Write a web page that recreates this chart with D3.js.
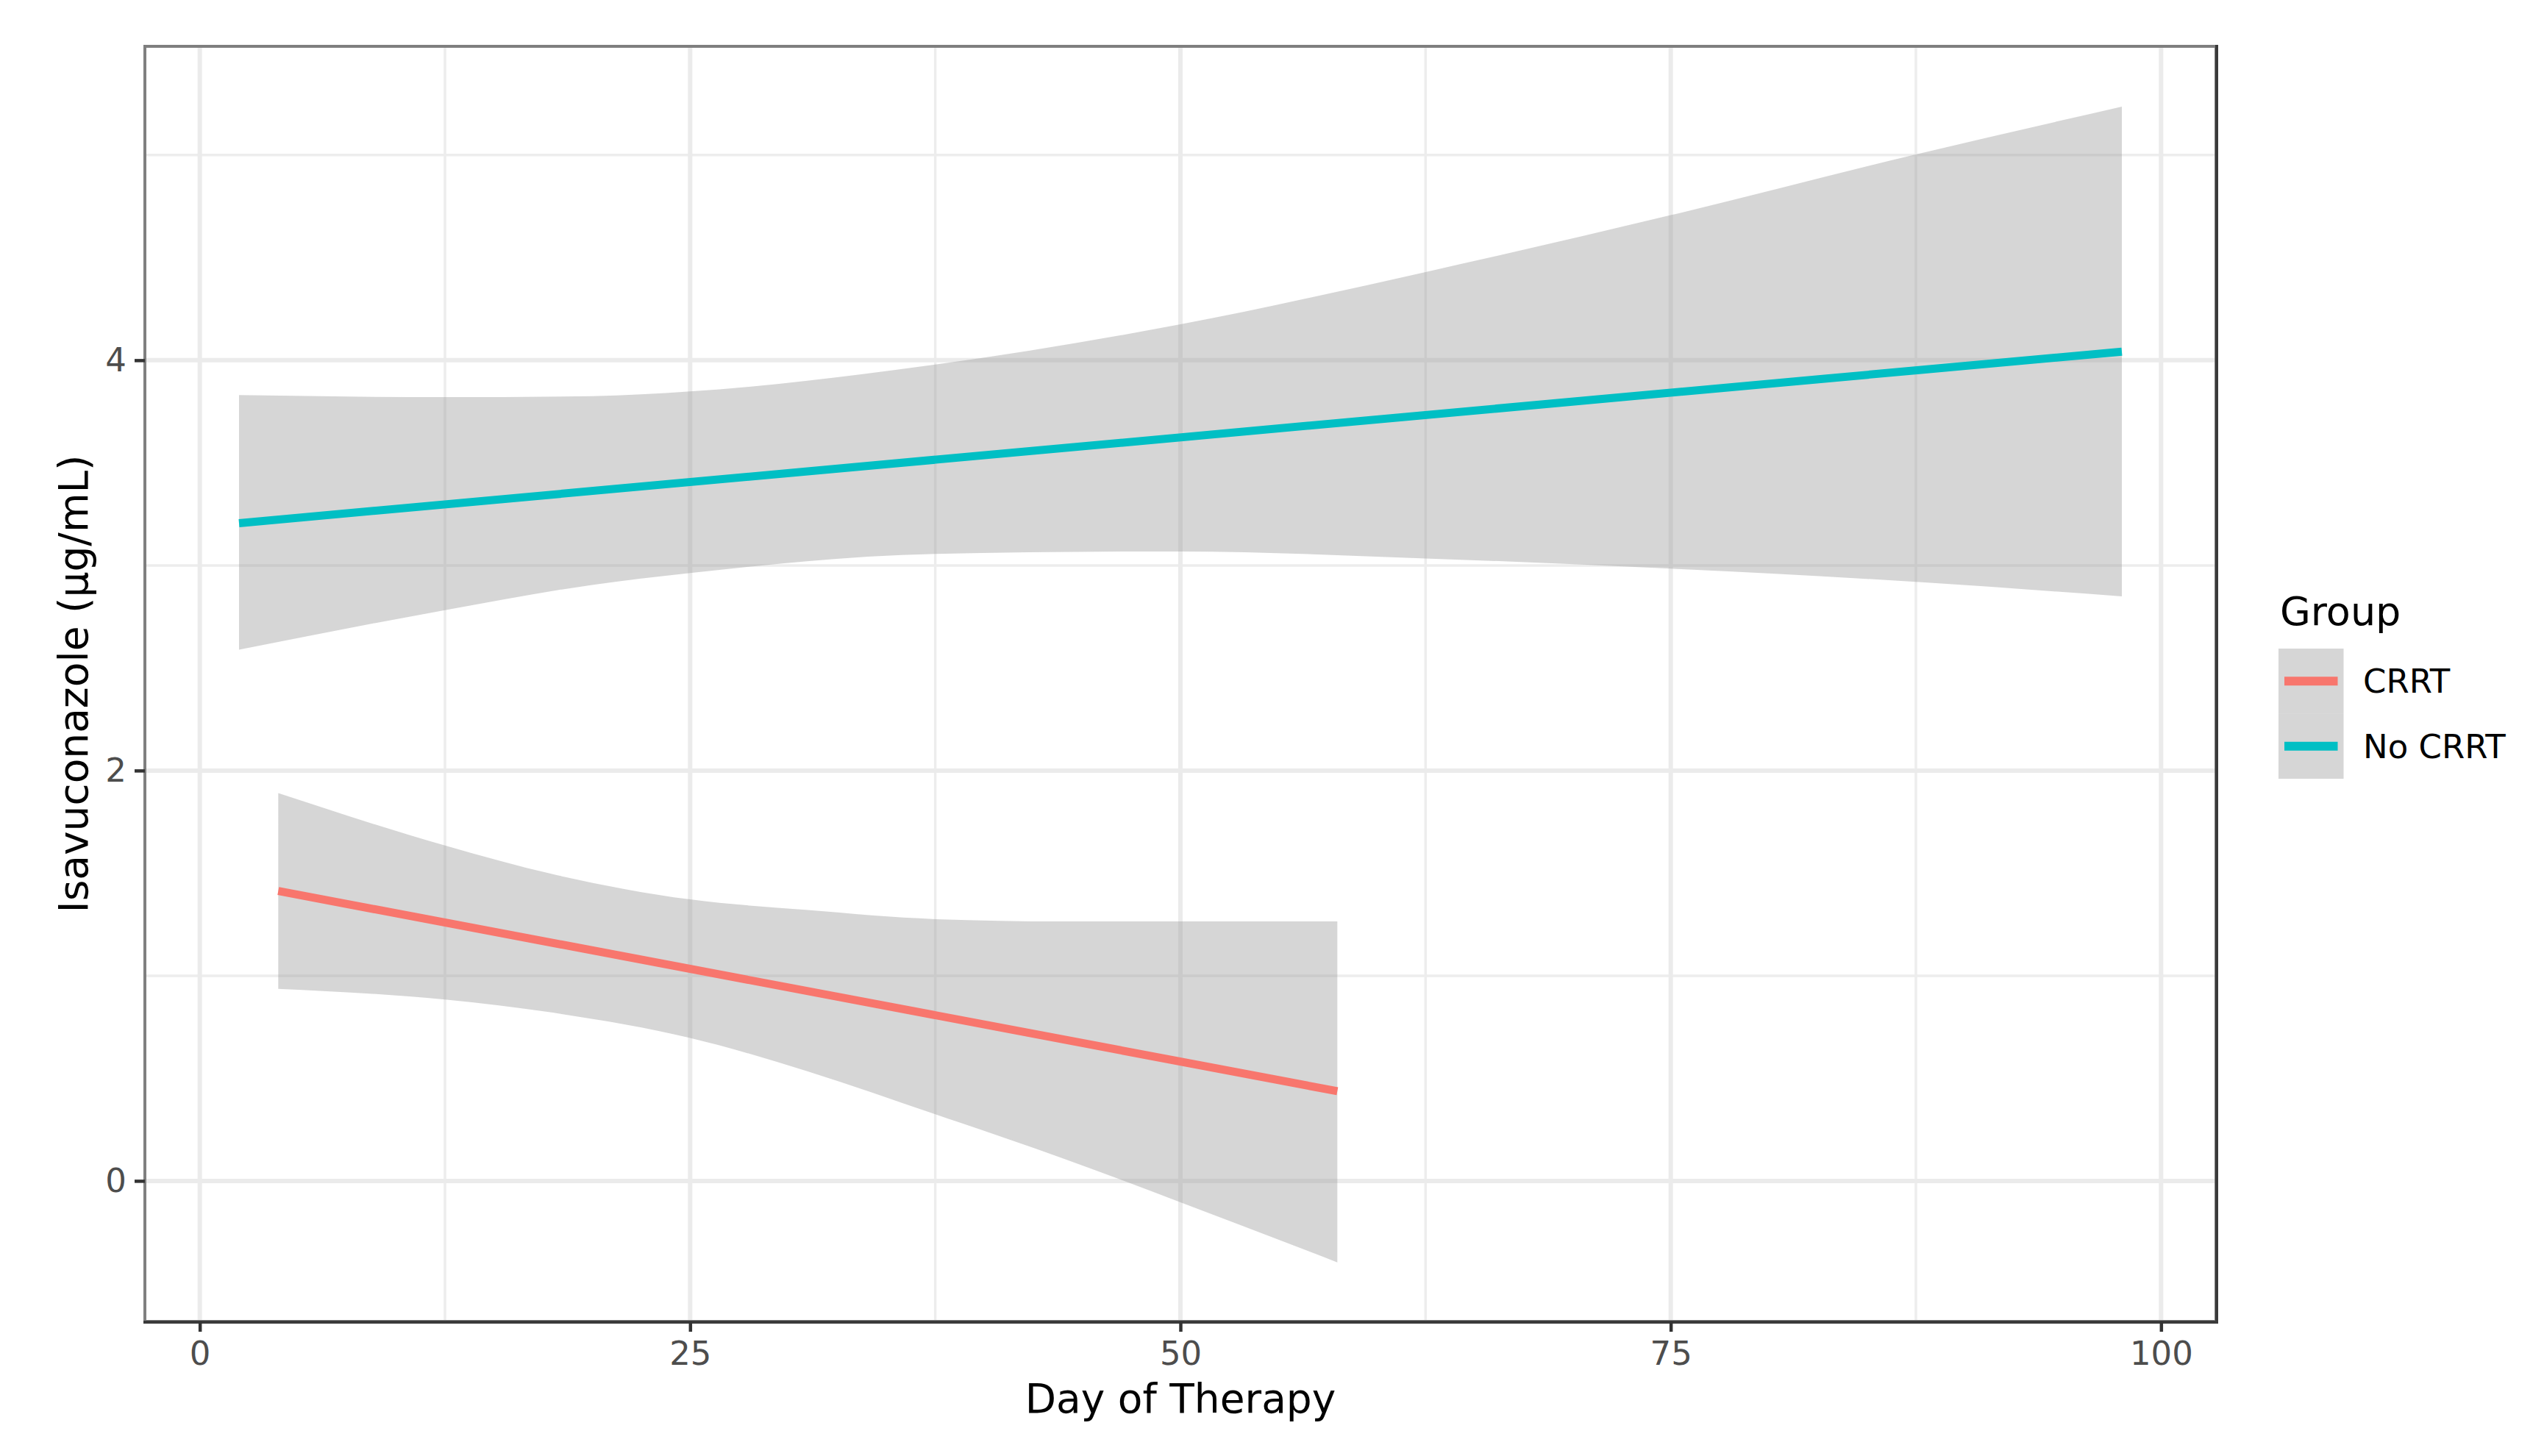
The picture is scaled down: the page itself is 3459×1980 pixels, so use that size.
<!DOCTYPE html>
<html>
<head>
<meta charset="utf-8">
<script src="https://cdn.jsdelivr.net/npm/d3@7"></script>
<style>
  body { margin: 0; background: #fff; }
  text { font-family: 'DejaVu Sans', sans-serif; }
</style>
</head>
<body>
<div id="chart"></div>
<script>
// Fitted lines (linear fit end points) per group
const groups = ['CRRT', 'No CRRT'];
const groupColors = ['#F8766D', '#00BFC4'];

const crrtLineX = [4, 58];
const crrtLineY = [1.413, 0.437];
const noCrrtLineX = [2, 98];
const noCrrtLineY = [3.206, 4.042];

// Confidence bands
const crrtBandX = [4, 12.5, 18, 25, 31, 37.5, 44, 50, 58];
const crrtBandUpper = [1.89, 1.635, 1.495, 1.372, 1.32, 1.276, 1.265, 1.265, 1.265];
const crrtBandLower = [0.936, 0.884, 0.82, 0.697, 0.534, 0.325, 0.11, -0.104, -0.397];

const noCrrtBandX = [2, 12.5, 20, 25, 37.5, 50, 62.5, 75, 87.5, 98];
const noCrrtBandUpper = [3.83, 3.82, 3.825, 3.848, 3.979, 4.175, 4.43, 4.707, 5.003, 5.236];
const noCrrtBandLower = [2.589, 2.782, 2.905, 2.963, 3.056, 3.068, 3.034, 2.984, 2.92, 2.849];

// Axes
const xTicks = [0, 25, 50, 75, 100];
const xMinor = [12.5, 37.5, 62.5, 87.5];
const yTicks = [0, 2, 4];
const yMinor = [1, 3, 5];

const xTitle = 'Day of Therapy';
const yTitle = 'Isavuconazole (µg/mL)';
const legendTitle = 'Group';

// Graph setup
const width = 3459;
const height = 1980;
const panel = { left: 197, top: 63, right: 3013, bottom: 1797 };

const svg = d3.select('#chart')
  .append('svg')
  .attr('width', width)
  .attr('height', height);

const x = d3.scaleLinear().domain([-2.8, 102.8]).range([panel.left, panel.right]);
const y = d3.scaleLinear().domain([-0.685, 5.53]).range([panel.bottom, panel.top]);

// grid
const grid = svg.append('g');
grid.selectAll('.vminor').data(xMinor).enter().append('line')
  .attr('x1', d => x(d)).attr('x2', d => x(d))
  .attr('y1', panel.top).attr('y2', panel.bottom)
  .attr('stroke', '#EDEDED').attr('stroke-width', 3.5);
grid.selectAll('.hminor').data(yMinor).enter().append('line')
  .attr('y1', d => y(d)).attr('y2', d => y(d))
  .attr('x1', panel.left).attr('x2', panel.right)
  .attr('stroke', '#EDEDED').attr('stroke-width', 3.5);
grid.selectAll('.vmajor').data(xTicks).enter().append('line')
  .attr('x1', d => x(d)).attr('x2', d => x(d))
  .attr('y1', panel.top).attr('y2', panel.bottom)
  .attr('stroke', '#EBEBEB').attr('stroke-width', 6);
grid.selectAll('.hmajor').data(yTicks).enter().append('line')
  .attr('y1', d => y(d)).attr('y2', d => y(d))
  .attr('x1', panel.left).attr('x2', panel.right)
  .attr('stroke', '#EBEBEB').attr('stroke-width', 6);

// bands
const bands = [
  { xs: crrtBandX, lo: crrtBandLower, hi: crrtBandUpper },
  { xs: noCrrtBandX, lo: noCrrtBandLower, hi: noCrrtBandUpper }
];
const area = d3.area()
  .x(d => x(d.x))
  .y0(d => y(d.lo))
  .y1(d => y(d.hi))
  .curve(d3.curveMonotoneX);

bands.forEach(b => {
  const pts = b.xs.map((v, i) => ({ x: v, lo: b.lo[i], hi: b.hi[i] }));
  svg.append('path')
    .datum(pts)
    .attr('d', area)
    .attr('fill', '#999999')
    .attr('fill-opacity', 0.4);
});

// fitted lines
const lines = [
  { xs: crrtLineX, ys: crrtLineY, color: groupColors[0] },
  { xs: noCrrtLineX, ys: noCrrtLineY, color: groupColors[1] }
];
const line = d3.line().x(d => x(d[0])).y(d => y(d[1]));
lines.forEach(l => {
  svg.append('path')
    .datum(l.xs.map((v, i) => [v, l.ys[i]]))
    .attr('d', line)
    .attr('fill', 'none')
    .attr('stroke', l.color)
    .attr('stroke-width', 11);
});

// panel border
svg.append('rect')
  .attr('x', panel.left).attr('y', panel.top)
  .attr('width', panel.right - panel.left)
  .attr('height', panel.bottom - panel.top)
  .attr('fill', 'none')
  .attr('stroke', '#7f7f7f')
  .attr('stroke-width', 4);
svg.append('path')
  .attr('d', `M${panel.left - 2},${panel.bottom + 1}H${panel.right + 1}V${panel.top - 2}`)
  .attr('fill', 'none')
  .attr('stroke', '#3a3a3a')
  .attr('stroke-width', 4);

// axes
const xAxis = svg.append('g')
  .attr('transform', `translate(0,${panel.bottom})`)
  .call(d3.axisBottom(x).tickValues(xTicks).tickSize(14).tickPadding(13).tickFormat(d3.format('d')));
const yAxis = svg.append('g')
  .attr('transform', `translate(${panel.left},0)`)
  .call(d3.axisLeft(y).tickValues(yTicks).tickSize(14).tickPadding(11).tickFormat(d3.format('d')));

[xAxis, yAxis].forEach(a => {
  a.select('.domain').remove();
  a.selectAll('.tick line').attr('stroke', '#333333').attr('stroke-width', 4.5);
  a.selectAll('.tick text')
    .attr('fill', '#4D4D4D')
    .style('font-size', '45px')
    .style('font-family', "'DejaVu Sans', sans-serif");
});

// axis titles
svg.append('text')
  .attr('x', (panel.left + panel.right) / 2)
  .attr('y', 1921)
  .attr('text-anchor', 'middle')
  .style('font-size', '55px')
  .attr('fill', '#000')
  .text(xTitle);

svg.append('text')
  .attr('transform', `translate(119,${(panel.top + panel.bottom) / 2}) rotate(-90)`)
  .attr('text-anchor', 'middle')
  .style('font-size', '55px')
  .attr('fill', '#000')
  .text(yTitle);

// legend
const legend = svg.append('g').attr('transform', 'translate(3098,882)');
const keySize = 88.5;
legend.append('text')
  .attr('x', 2).attr('y', -32)
  .style('font-size', '54px')
  .attr('fill', '#000')
  .text(legendTitle);

groups.forEach((g, i) => {
  const row = legend.append('g').attr('transform', `translate(0,${i * keySize})`);
  row.append('rect')
    .attr('width', keySize).attr('height', keySize)
    .attr('fill', '#999999').attr('fill-opacity', 0.4);
  row.append('line')
    .attr('x1', 8).attr('x2', keySize - 8)
    .attr('y1', keySize / 2).attr('y2', keySize / 2)
    .attr('stroke', groupColors[i])
    .attr('stroke-width', 12);
  row.append('text')
    .attr('x', 115).attr('y', keySize / 2)
    .attr('dy', '0.36em')
    .style('font-size', '45px')
    .attr('fill', '#000')
    .text(g);
});
</script>
</body>
</html>
